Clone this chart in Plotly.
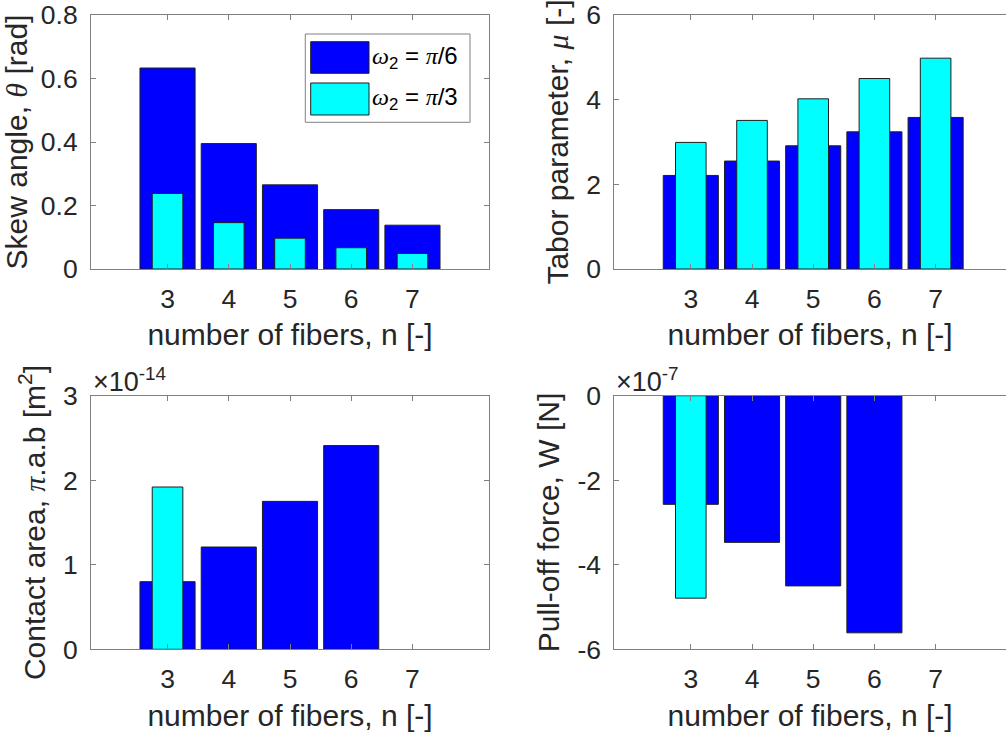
import plotly.graph_objects as go

# ---- data -------------------------------------------------------------
n_fibers = [3, 4, 5, 6, 7]
series_names = ["<i>ω</i><sub>2</sub> = <i>π</i>/6", "<i>ω</i><sub>2</sub> = <i>π</i>/3"]

skew_pi6 = [0.633, 0.395, 0.265, 0.187, 0.138]
skew_pi3 = [0.238, 0.146, 0.097, 0.067, 0.049]

tabor_pi6 = [2.21, 2.55, 2.91, 3.24, 3.58]
tabor_pi3 = [2.99, 3.51, 4.02, 4.50, 4.98]

area_scale = 1e-14
area_pi6 = [0.80e-14, 1.21e-14, 1.75e-14, 2.41e-14, None]
area_pi3 = [1.92e-14, None, None, None, None]

force_scale = 1e-7
force_pi6 = [-2.57e-7, -3.47e-7, -4.50e-7, -5.61e-7, None]
force_pi3 = [-4.79e-7, None, None, None, None]

# ---- style ------------------------------------------------------------
W, H = 1006, 738
FONT = "Liberation Sans, Arial, Helvetica, sans-serif"
TXT = "#262626"
FRAME = "#808080"
BLUE, CYAN = "#0000ff", "#00ffff"
EDGE = "#1f1f1f"
WIDE, NARROW = 0.9, 0.5
TICK_SIZE, TITLE_SIZE = 26.5, 30


def scaled(vals, s):
    return [None if v is None else v / s for v in vals]


def greek(ch):
    return f'<span style="font-family:Liberation Serif, Times New Roman, serif"><i>{ch}</i></span>'


panels = [
    dict(ax="", y6=skew_pi6, y3=skew_pi3, yr=[0, 0.8], dt=0.2, fmt=".1f",
         title=f"Skew angle, {greek('θ')} [rad]"),
    dict(ax="2", y6=tabor_pi6, y3=tabor_pi3, yr=[0, 6], dt=2, fmt="d",
         title=f"Tabor parameter, {greek('μ')} [-]"),
    dict(ax="3", y6=scaled(area_pi6, area_scale), y3=scaled(area_pi3, area_scale),
         yr=[0, 3], dt=1, fmt="d",
         title=f"Contact area, {greek('π')}.a.b [m<sup>2</sup>]"),
    dict(ax="4", y6=scaled(force_pi6, force_scale), y3=scaled(force_pi3, force_scale),
         yr=[-6, 0], dt=2, fmt="d",
         title="Pull-off force, W [N]"),
]

# axes placement in pixels (left, right, top, bottom)
boxes = [
    (91, 489, 15, 269),
    (614.3, 1006, 15, 269),
    (91, 489, 395.7, 649.3),
    (614.3, 1006, 395.7, 649.3),
]
x_ranges = [[1.75, 8.25], [1.75, 8.15], [1.75, 8.25], [1.75, 8.15]]

fig = go.Figure()
layout = dict(
    width=W, height=H,
    margin=dict(l=0, r=0, t=0, b=0),
    paper_bgcolor="white", plot_bgcolor="white",
    barmode="overlay", showlegend=False,
    font=dict(family=FONT, color=TXT, size=TICK_SIZE),
    shapes=[], annotations=[],
)

for i, (p, box, xr) in enumerate(zip(panels, boxes, x_ranges)):
    xa, ya = "x" + p["ax"], "y" + p["ax"]
    fig.add_trace(go.Bar(x=n_fibers, y=p["y6"], width=WIDE, name=series_names[0],
                         marker=dict(color=BLUE, line=dict(color=EDGE, width=1)),
                         xaxis=xa, yaxis=ya))
    fig.add_trace(go.Bar(x=n_fibers, y=p["y3"], width=NARROW, name=series_names[1],
                         marker=dict(color=CYAN, line=dict(color=EDGE, width=1)),
                         xaxis=xa, yaxis=ya))

    l, r, t, b = box
    right_col = i % 2 == 1
    yticks = []
    v = p["yr"][0]
    while v <= p["yr"][1] + 1e-9:
        yticks.append(round(v, 6))
        v += p["dt"]
    ytext = [format(t_, p["fmt"]) if p["fmt"] != "d" else str(int(round(t_))) for t_ in yticks]
    ytext = [s if s != "0.0" else "0" for s in ytext]

    layout["xaxis" + p["ax"]] = dict(
        domain=[l / W, r / W], range=xr, anchor=ya, automargin=False,
        tickvals=n_fibers, ticktext=[str(k) for k in n_fibers],
        ticks="inside", ticklen=5, tickcolor=FRAME, tickwidth=1,
        showline=True, linecolor=FRAME, linewidth=1, mirror="ticks",
        showgrid=False, zeroline=False,
        tickfont=dict(size=TICK_SIZE, color=TXT, family=FONT),
        ticklabelstandoff=6,
        title=dict(text="number of fibers, n [-]",
                   font=dict(size=TITLE_SIZE, color=TXT, family=FONT), standoff=11),
    )
    layout["yaxis" + p["ax"]] = dict(
        domain=[1 - b / H, 1 - t / H], range=p["yr"], anchor=xa, automargin=False,
        tickvals=yticks, ticktext=ytext,
        ticks="inside", ticklen=5, tickcolor=FRAME, tickwidth=1,
        showline=True, linecolor=FRAME, linewidth=1,
        mirror=False if right_col else "ticks",
        showgrid=False, zeroline=False,
        tickfont=dict(size=TICK_SIZE, color=TXT, family=FONT),
        ticklabelstandoff=7,
        title=dict(text=p["title"], font=dict(size=TITLE_SIZE, color=TXT, family=FONT), standoff=8),
    )

# exponent multipliers above the scaled axes
for ax, exp in (("3", "-14"), ("4", "-7")):
    layout["annotations"].append(dict(
        text=f"×10<sup>{exp}</sup>", showarrow=False,
        xref=f"x{ax} domain", yref=f"y{ax} domain", x=0, y=1,
        xanchor="left", yanchor="bottom", xshift=0, yshift=-3,
        font=dict(size=27, color=TXT, family=FONT),
    ))

# legend box in the first panel
lg = dict(xref="x domain", yref="y domain")
layout["shapes"].append(dict(type="rect", **lg, x0=0.5384, x1=0.9523, y0=0.5776, y1=0.9252,
                             line=dict(color=FRAME, width=1), fillcolor="white", layer="above"))
for (y0, y1), col, name in zip([(0.7705, 0.8949), (0.6063, 0.7323)], [BLUE, CYAN], series_names):
    layout["shapes"].append(dict(type="rect", **lg, x0=0.5520, x1=0.6985, y0=y0, y1=y1,
                                 line=dict(color=EDGE, width=1), fillcolor=col, layer="above"))
    layout["annotations"].append(dict(
        text=name.replace("<i>π</i>", greek("π")).replace("<i>ω</i>", greek("ω")),
        showarrow=False, xref="x domain", yref="y domain",
        x=0.702, y=(y0 + y1) / 2, xanchor="left", yanchor="middle",
        font=dict(size=24, color="#000000", family=FONT),
    ))

fig.update_layout(**layout)
fig.write_html("out.html")
